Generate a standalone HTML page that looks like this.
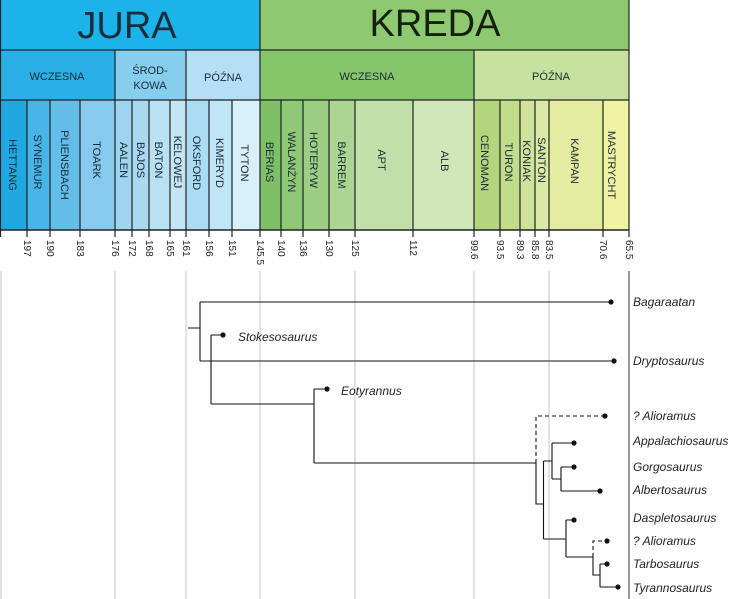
<!DOCTYPE html>
<html><head><meta charset="utf-8"><style>
html,body{margin:0;padding:0;background:#fff;width:736px;height:599px;overflow:hidden}
svg{display:block}
.st{font-family:"Liberation Sans",sans-serif;font-size:11px;fill:#1a2a35}
.tk{font-family:"Liberation Sans",sans-serif;font-size:10px;fill:#222}
.tx{font-family:"Liberation Sans",sans-serif;font-size:12px;font-style:italic;fill:#222}
</style></head><body>
<svg width="736" height="599" viewBox="0 0 736 599" xmlns="http://www.w3.org/2000/svg">
<!-- period row -->
<rect x="0" y="0" width="260" height="50" fill="#1cb2ea"/>
<rect x="260" y="0" width="369" height="50" fill="#8cc970"/>
<text x="127" y="38" text-anchor="middle" font-family="Liberation Sans,sans-serif" font-size="38" fill="#1b2d3c">JURA</text>
<text x="435" y="36" text-anchor="middle" font-family="Liberation Sans,sans-serif" font-size="38" fill="#15200f">KREDA</text>
<!-- epoch row -->
<rect x="0" y="50" width="115" height="50" fill="#2ab0e6"/>
<rect x="115" y="50" width="71" height="50" fill="#86cdee"/>
<rect x="186" y="50" width="74" height="50" fill="#b5dff4"/>
<rect x="260" y="50" width="214" height="50" fill="#86c66a"/>
<rect x="474" y="50" width="155" height="50" fill="#c6e29e"/>
<text x="57" y="80" text-anchor="middle" class="st" font-size="12" fill="#0f3b66">WCZESNA</text>
<text x="150" y="74" text-anchor="middle" class="st" font-size="12">ŚROD-</text>
<text x="150" y="89" text-anchor="middle" class="st" font-size="12">KOWA</text>
<text x="223" y="81" text-anchor="middle" class="st" font-size="12">PÓŹNA</text>
<text x="367" y="80" text-anchor="middle" class="st" font-size="12">WCZESNA</text>
<text x="551" y="80" text-anchor="middle" class="st" font-size="12">PÓŹNA</text>
<!-- stage row -->
<g>
<rect x="0" y="100" width="27" height="130" fill="#1fa8e2"/>
<rect x="27" y="100" width="23" height="130" fill="#48b4e7"/>
<rect x="50" y="100" width="30" height="130" fill="#62bde9"/>
<rect x="80" y="100" width="35" height="130" fill="#86caee"/>
<rect x="115" y="100" width="17" height="130" fill="#9dd5f0"/>
<rect x="132" y="100" width="17" height="130" fill="#a8d9f1"/>
<rect x="149" y="100" width="21" height="130" fill="#b8e1f3"/>
<rect x="170" y="100" width="16" height="130" fill="#c4e6f4"/>
<rect x="186" y="100" width="23" height="130" fill="#abdcf3"/>
<rect x="209" y="100" width="23" height="130" fill="#c0e5f6"/>
<rect x="232" y="100" width="28" height="130" fill="#d8f0fa"/>
<rect x="260" y="100" width="21" height="130" fill="#7fbf68"/>
<rect x="281" y="100" width="22" height="130" fill="#8fc876"/>
<rect x="303" y="100" width="26" height="130" fill="#9dce83"/>
<rect x="329" y="100" width="26" height="130" fill="#acd493"/>
<rect x="355" y="100" width="58" height="130" fill="#c1e0a9"/>
<rect x="413" y="100" width="61" height="130" fill="#cfe7b8"/>
<rect x="474" y="100" width="26" height="130" fill="#b3d57d"/>
<rect x="500" y="100" width="20" height="130" fill="#c2dc8c"/>
<rect x="520" y="100" width="15" height="130" fill="#d0e39b"/>
<rect x="535" y="100" width="14" height="130" fill="#dbe9a6"/>
<rect x="549" y="100" width="54" height="130" fill="#e4eca2"/>
<rect x="603" y="100" width="26" height="130" fill="#f1f1a4"/>
</g>
<g stroke="#222" stroke-width="1.2" fill="none">
<line x1="0" y1="50" x2="629" y2="50"/>
<line x1="0" y1="100" x2="629" y2="100"/>
<line x1="260" y1="0" x2="260" y2="237"/>
<line x1="629" y1="0" x2="629" y2="237"/>
<line x1="115" y1="50" x2="115" y2="237"/>
<line x1="186" y1="50" x2="186" y2="237"/>
<line x1="474" y1="50" x2="474" y2="237"/>
<line x1="27" y1="100" x2="27" y2="237"/>
<line x1="50" y1="100" x2="50" y2="237"/>
<line x1="80" y1="100" x2="80" y2="237"/>
<line x1="132" y1="100" x2="132" y2="237"/>
<line x1="149" y1="100" x2="149" y2="237"/>
<line x1="170" y1="100" x2="170" y2="237"/>
<line x1="209" y1="100" x2="209" y2="237"/>
<line x1="232" y1="100" x2="232" y2="237"/>
<line x1="281" y1="100" x2="281" y2="237"/>
<line x1="303" y1="100" x2="303" y2="237"/>
<line x1="329" y1="100" x2="329" y2="237"/>
<line x1="355" y1="100" x2="355" y2="237"/>
<line x1="413" y1="100" x2="413" y2="237"/>
<line x1="500" y1="100" x2="500" y2="237"/>
<line x1="520" y1="100" x2="520" y2="237"/>
<line x1="535" y1="100" x2="535" y2="237"/>
<line x1="549" y1="100" x2="549" y2="237"/>
<line x1="603" y1="100" x2="603" y2="237"/>
<line x1="0" y1="230" x2="629" y2="230" stroke-width="1.5"/>
<line x1="0.5" y1="0" x2="0.5" y2="237"/>
</g>
<!-- stage labels -->
<g class="st">
<text transform="translate(9,165) rotate(90)" text-anchor="middle">HETTANG</text>
<text transform="translate(34,162) rotate(90)" text-anchor="middle">SYNEMUR</text>
<text transform="translate(61,165) rotate(90)" text-anchor="middle">PLIENSBACH</text>
<text transform="translate(93,160) rotate(90)" text-anchor="middle">TOARK</text>
<text transform="translate(120,160) rotate(90)" text-anchor="middle">AALEN</text>
<text transform="translate(137,160) rotate(90)" text-anchor="middle">BAJOS</text>
<text transform="translate(155,160) rotate(90)" text-anchor="middle">BATON</text>
<text transform="translate(174,162) rotate(90)" text-anchor="middle">KELOWEJ</text>
<text transform="translate(193,163) rotate(90)" text-anchor="middle">OKSFORD</text>
<text transform="translate(216,163) rotate(90)" text-anchor="middle">KIMERYD</text>
<text transform="translate(241,163) rotate(90)" text-anchor="middle">TYTON</text>
<text transform="translate(266,162) rotate(90)" text-anchor="middle">BERIAS</text>
<text transform="translate(288,162) rotate(90)" text-anchor="middle">WALANŻYN</text>
<text transform="translate(310,160) rotate(90)" text-anchor="middle">HOTERYW</text>
<text transform="translate(338,165) rotate(90)" text-anchor="middle">BARREM</text>
<text transform="translate(378,160) rotate(90)" text-anchor="middle">APT</text>
<text transform="translate(441,161) rotate(90)" text-anchor="middle">ALB</text>
<text transform="translate(481,163) rotate(90)" text-anchor="middle">CENOMAN</text>
<text transform="translate(505,162) rotate(90)" text-anchor="middle">TURON</text>
<text transform="translate(523,161) rotate(90)" text-anchor="middle">KONIAK</text>
<text transform="translate(538,160) rotate(90)" text-anchor="middle">SANTON</text>
<text transform="translate(571,161) rotate(90)" text-anchor="middle">KAMPAN</text>
<text transform="translate(608,165) rotate(90)" text-anchor="middle">MASTRYCHT</text>
</g>
<!-- tick labels -->
<g class="tk">
<text transform="translate(24,240) rotate(90)">197</text>
<text transform="translate(47,240) rotate(90)">190</text>
<text transform="translate(77,240) rotate(90)">183</text>
<text transform="translate(112,240) rotate(90)">176</text>
<text transform="translate(129,240) rotate(90)">172</text>
<text transform="translate(146,240) rotate(90)">168</text>
<text transform="translate(167,240) rotate(90)">165</text>
<text transform="translate(183,240) rotate(90)">161</text>
<text transform="translate(206,240) rotate(90)">156</text>
<text transform="translate(229,240) rotate(90)">151</text>
<text transform="translate(257,240) rotate(90)">145.5</text>
<text transform="translate(278,240) rotate(90)">140</text>
<text transform="translate(300,240) rotate(90)">136</text>
<text transform="translate(326,240) rotate(90)">130</text>
<text transform="translate(352,240) rotate(90)">125</text>
<text transform="translate(410,240) rotate(90)">112</text>
<text transform="translate(471,240) rotate(90)">99.6</text>
<text transform="translate(497,240) rotate(90)">93.5</text>
<text transform="translate(517,240) rotate(90)">89.3</text>
<text transform="translate(532,240) rotate(90)">85.8</text>
<text transform="translate(546,240) rotate(90)">83.5</text>
<text transform="translate(600,240) rotate(90)">70.6</text>
<text transform="translate(626,240) rotate(90)">65.5</text>
</g>
<!-- grid -->
<g stroke="#cfcfcf" stroke-width="1.2">
<line x1="1" y1="271" x2="1" y2="599"/>
<line x1="115" y1="271" x2="115" y2="599"/>
<line x1="186" y1="271" x2="186" y2="599"/>
<line x1="260" y1="271" x2="260" y2="599"/>
<line x1="355" y1="271" x2="355" y2="599"/>
<line x1="474" y1="271" x2="474" y2="599"/>
<line x1="549" y1="271" x2="549" y2="599"/>
</g>
<line x1="629" y1="271" x2="629" y2="599" stroke="#777" stroke-width="1.5"/>
<!-- tree -->
<g stroke="#111" stroke-width="1.1" fill="none">
<path d="M188 328 H200 M200 302 V361 M200 302 H611 M200 361 H614"/>
<path d="M211 335 V404 M211 335 H223 M211 404 H314"/>
<path d="M314 389 V463 M314 389 H327 M314 463 H536"/>
<path d="M536 463 V504 H543.5"/>
<path d="M543.5 461 V539"/>
<path d="M543.5 461 H552 M552 443 V479 M552 443 H574 M552 479 H561 M561 467 V491 M561 467 H574 M561 491 H600"/>
<path d="M543.5 539 H566 M566 520 V557 M566 520 H574 M566 557 H593 M593 557 V575 H600 M600 564 V587 M600 564 H607 M600 587 H618"/>
</g>
<g stroke="#111" stroke-width="1.1" fill="none" stroke-dasharray="4,3">
<path d="M536 463 V416 H605"/>
<path d="M593 557 V541 H607"/>
</g>
<g fill="#111">
<circle cx="611" cy="302" r="2.6"/><circle cx="614" cy="361" r="2.6"/>
<circle cx="223" cy="335" r="2.6"/><circle cx="327" cy="389" r="2.6"/>
<circle cx="605" cy="416" r="2.6"/><circle cx="574" cy="443" r="2.6"/>
<circle cx="574" cy="467" r="2.6"/><circle cx="600" cy="491" r="2.6"/>
<circle cx="574" cy="520" r="2.6"/><circle cx="607" cy="541" r="2.6"/>
<circle cx="607" cy="564" r="2.6"/><circle cx="618" cy="587" r="2.6"/>
</g>
<g class="tx">
<text x="633" y="306">Bagaraatan</text>
<text x="238" y="341">Stokesosaurus</text>
<text x="633" y="365">Dryptosaurus</text>
<text x="341" y="395">Eotyrannus</text>
<text x="633" y="420">? Alioramus</text>
<text x="633" y="445">Appalachiosaurus</text>
<text x="633" y="471">Gorgosaurus</text>
<text x="633" y="494">Albertosaurus</text>
<text x="633" y="522">Daspletosaurus</text>
<text x="633" y="545">? Alioramus</text>
<text x="633" y="568">Tarbosaurus</text>
<text x="633" y="592">Tyrannosaurus</text>
</g>
</svg>
</body></html>
